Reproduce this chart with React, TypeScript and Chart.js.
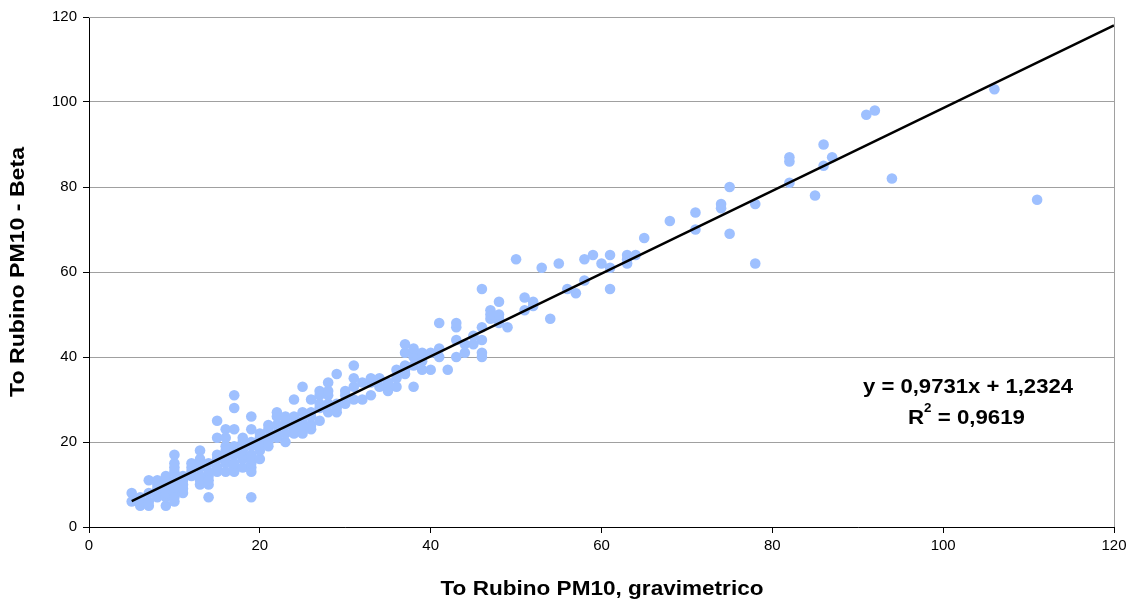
import React, { useEffect, useRef } from 'react';
import { Chart, registerables } from 'chart.js';

Chart.register(...registerables);

// To Rubino PM10, gravimetrico (x) and To Rubino PM10 - Beta (y)
const gravimetric = [
  5, 5,
  6, 6, 6,
  7, 7, 7, 7,
  8, 8, 8, 8, 8,
  9, 9, 9, 9, 9, 9, 9,
  10, 10, 10, 10, 10, 10, 10, 10, 10, 10,
  11, 11, 11, 11, 11,
  12, 12, 12, 12,
  13, 13, 13, 13, 13, 13, 13,
  14, 14, 14, 14, 14, 14,
  15, 15, 15, 15, 15, 15,
  16, 16, 16, 16, 16, 16, 16,
  17, 17, 17, 17, 17, 17, 17, 17,
  18, 18, 18, 18, 18, 18,
  19, 19, 19, 19, 19, 19, 19, 19, 19, 19,
  20, 20, 20, 20, 20, 20,
  21, 21, 21, 21, 21,
  22, 22, 22, 22, 22,
  23, 23, 23, 23, 23,
  24, 24, 24, 24, 24,
  25, 25, 25, 25, 25, 25,
  26, 26, 26, 26, 26,
  27, 27, 27, 27, 27,
  28, 28, 28, 28, 28,
  29, 29, 29, 29,
  30, 30, 30,
  31, 31, 31, 31,
  32, 32,
  33, 33, 33,
  34, 34,
  35, 35, 35,
  36, 36, 36,
  37, 37, 37, 37, 37,
  38, 38, 38, 38, 38,
  39, 39, 39, 39,
  40, 40,
  41, 41, 41,
  42,
  43, 43, 43, 43,
  44, 44,
  45, 45,
  46, 46, 46, 46, 46,
  47, 47, 47,
  48, 48, 48, 48,
  49, 50, 51, 51, 52, 52, 53, 54, 55, 56, 57, 58, 58, 59, 60,
  61, 61, 61, 63, 63, 63, 64, 65, 68, 71, 71, 74, 74, 75, 75, 78, 78,
  82, 82, 82, 85, 86, 86, 87, 91, 92, 94, 106, 111,
];

const beta = [
  8, 6,
  5, 7, 6,
  5, 11, 6, 8,
  7, 9, 10, 11, 8,
  5, 7, 8, 10, 11, 12, 9,
  6, 8, 9, 10, 11, 13, 14, 15, 17, 7,
  8, 9, 10, 11, 12,
  12, 14, 15, 13,
  10, 11, 12, 14, 16, 18, 15,
  7, 10, 12, 13, 15, 11,
  13, 14, 17, 21, 25, 16,
  13, 15, 16, 19, 21, 23, 18,
  13, 14, 17, 19, 23, 28, 31, 15,
  14, 16, 17, 20, 21, 18,
  7, 13, 14, 15, 16, 17, 19, 23, 26, 20,
  16, 18, 20, 21, 22, 19,
  19, 21, 23, 24, 20,
  22, 24, 26, 27, 21,
  20, 22, 24, 26, 25,
  22, 24, 26, 30, 23,
  22, 23, 25, 27, 33, 24,
  23, 24, 26, 27, 30,
  25, 28, 29, 31, 32,
  27, 29, 31, 32, 34,
  27, 28, 29, 36,
  29, 31, 32,
  30, 33, 35, 38,
  30, 34,
  31, 34, 35,
  35, 33,
  32, 33, 34,
  33, 35, 37,
  36, 37, 38, 41, 43,
  33, 38, 40, 41, 42,
  37, 39, 40, 41,
  37, 41,
  40, 42, 48,
  37,
  40, 44, 47, 48,
  41, 43,
  43, 45,
  40, 41, 44, 47, 56,
  49, 50, 51,
  48, 49, 50, 53,
  47, 63, 51, 54, 52, 53, 61, 49, 62, 56, 55, 58, 63, 64, 62,
  56, 61, 64, 62, 63, 64, 64, 68, 72, 70, 74, 75, 76, 69, 80, 62, 76,
  81, 86, 87, 78, 85, 90, 87, 97, 98, 82, 103, 77,
];

// Linear trendline (Excel): y = 0,9731x + 1,2324
const trendSlope = 0.9731;
const trendIntercept = 1.2324;
const trendXRange = [5, 120];

const axisTicks = [0, 20, 40, 60, 80, 100, 120];
const xTitle = 'To Rubino PM10, gravimetrico';
const yTitle = 'To Rubino PM10 - Beta';
const equationText = 'y = 0,9731x + 1,2324';
const r2Parts = ['R', '2', ' = 0,9619'];

const FONT = "'Liberation Sans', Arial, sans-serif";

function drawStretched(
  ctx: CanvasRenderingContext2D,
  text: string,
  cx: number,
  cy: number,
  targetWidth: number,
  font: string,
  rotate = 0
) {
  ctx.save();
  ctx.font = font;
  const w = ctx.measureText(text).width;
  const sx = targetWidth / w;
  ctx.translate(cx, cy);
  if (rotate) ctx.rotate(rotate);
  ctx.scale(sx, 1);
  ctx.textAlign = 'center';
  ctx.textBaseline = 'middle';
  ctx.fillStyle = '#000';
  ctx.fillText(text, 0, 0);
  ctx.restore();
}

export default function App() {
  const canvasRef = useRef<HTMLCanvasElement>(null);

  useEffect(() => {
    document.body.style.margin = '0';
    const canvas = canvasRef.current;
    if (!canvas) return;

    const points = gravimetric.map((x, i) => ({ x, y: beta[i] }));
    const trend = trendXRange.map((x) => ({ x, y: trendSlope * x + trendIntercept }));

    const framePlugin = {
      id: 'frame',
      beforeDatasetsDraw(chart: any) {
        const { ctx, chartArea } = chart;
        ctx.save();
        ctx.strokeStyle = '#a0a0a0';
        ctx.lineWidth = 1;
        ctx.beginPath();
        ctx.moveTo(chartArea.left, chartArea.top + 0.5);
        ctx.lineTo(chartArea.right + 0.5, chartArea.top + 0.5);
        ctx.lineTo(chartArea.right + 0.5, chartArea.bottom);
        ctx.stroke();
        ctx.restore();
      },
      afterDraw(chart: any) {
        const { ctx, chartArea } = chart;
        const titleFont = `bold 20px ${FONT}`;
        // axis titles
        drawStretched(ctx, xTitle, (chartArea.left + chartArea.right) / 2 + 0.5, 589, 323, titleFont);
        drawStretched(ctx, yTitle, 18, (chartArea.top + chartArea.bottom) / 2, 250, titleFont, -Math.PI / 2);

        // trendline label
        const main = `bold 20px ${FONT}`;
        const sup = `bold 12px ${FONT}`;
        drawStretched(ctx, equationText, 968, 387, 210, main);

        ctx.save();
        ctx.fillStyle = '#000';
        ctx.textBaseline = 'middle';
        ctx.font = main;
        const wR = ctx.measureText(r2Parts[0]).width;
        const wRest = ctx.measureText(r2Parts[2]).width;
        ctx.font = sup;
        const w2 = ctx.measureText(r2Parts[1]).width;
        const total = wR + w2 + wRest;
        const sx = 117 / total;
        ctx.translate(966.5 - 117 / 2, 418);
        ctx.scale(sx, 1);
        ctx.textAlign = 'left';
        ctx.font = main;
        ctx.fillText(r2Parts[0], 0, 0);
        ctx.font = sup;
        ctx.fillText(r2Parts[1], wR, -9);
        ctx.font = main;
        ctx.fillText(r2Parts[2], wR + w2, 0);
        ctx.restore();
      },
    };

    const chart = new Chart(canvas, {
      type: 'scatter',
      data: {
        datasets: [
          {
            type: 'line',
            label: 'Trend',
            data: trend,
            borderColor: '#000000',
            borderWidth: 2.5,
            pointRadius: 0,
            fill: false,
            order: 0,
          } as any,
          {
            label: 'PM10',
            data: points,
            backgroundColor: '#9ec0ff',
            borderWidth: 0,
            pointRadius: 5.3,
            pointHoverRadius: 5.3,
            order: 1,
          },
        ],
      },
      options: {
        responsive: false,
        animation: false,
        layout: { padding: { top: 17, right: 19, left: 0, bottom: 0 } },
        plugins: {
          legend: { display: false },
          tooltip: { enabled: false },
        },
        scales: {
          x: {
            type: 'linear',
            min: 0,
            max: 120,
            afterBuildTicks: (s: any) => {
              s.ticks = axisTicks.map((v) => ({ value: v }));
            },
            afterFit: (s: any) => {
              s.height = 81;
            },
            ticks: {
              font: { family: FONT, size: 15 },
              color: '#000',
              padding: 4,
              maxRotation: 0,
            },
            grid: {
              drawOnChartArea: false,
              drawTicks: true,
              tickLength: 6,
              tickColor: '#000',
            },
            border: { color: '#000', width: 1 },
          },
          y: {
            type: 'linear',
            min: 0,
            max: 120,
            afterBuildTicks: (s: any) => {
              s.ticks = axisTicks.map((v) => ({ value: v }));
            },
            afterFit: (s: any) => {
              s.width = 89;
            },
            ticks: {
              font: { family: FONT, size: 15 },
              color: '#000',
              padding: 6,
            },
            grid: {
              color: '#a0a0a0',
              tickColor: '#000',
              tickLength: 6,
            },
            border: { color: '#000', width: 1 },
          },
        },
      },
      plugins: [framePlugin],
    });

    return () => chart.destroy();
  }, []);

  return (
    <div style={{ width: 1133, height: 608 }}>
      <canvas ref={canvasRef} width={1133} height={608} />
    </div>
  );
}
